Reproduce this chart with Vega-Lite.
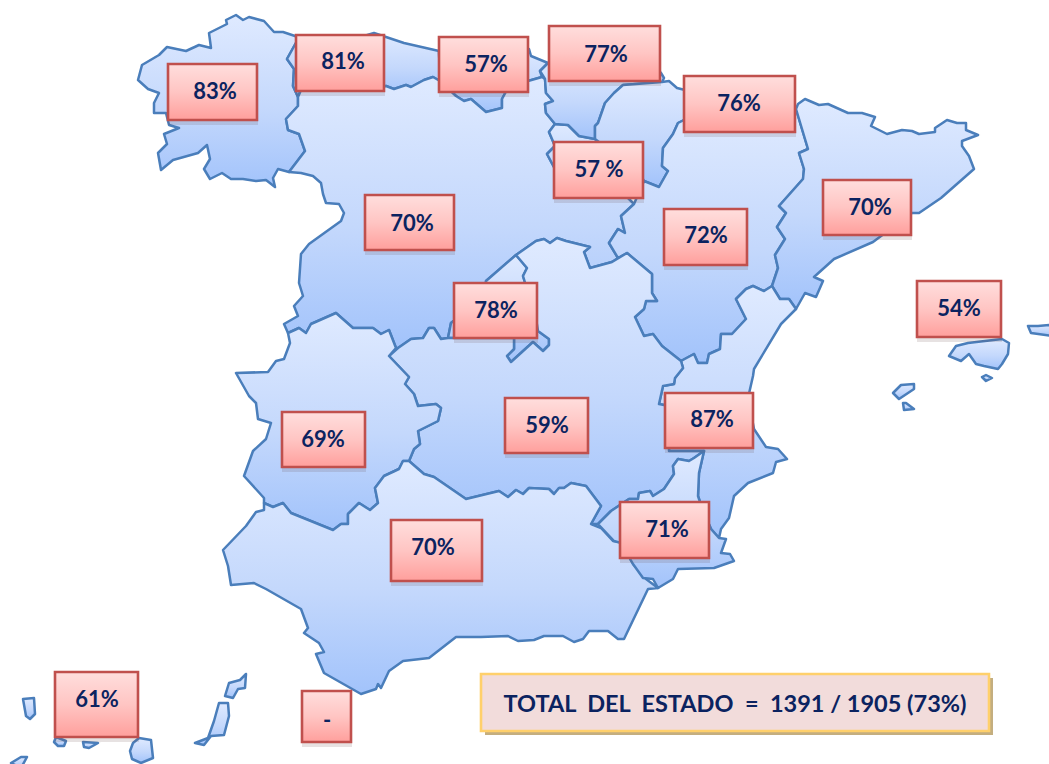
{"$schema":"https://vega.github.io/schema/vega-lite/v6.json","width":1049,"height":764,"padding":0,"autosize":{"type":"none"},"background":"white","config":{"view":{"stroke":null}},
"datasets":{"regions":[
{"type":"Feature","properties":{"name":"Galicia"},"geometry":{"type":"Polygon","coordinates":[[[137,74],[141,59],[158,49],[166,41],[185,45],[198,39],[210,42],[208,27],[226,18],[225,14],[235,9],[242,14],[248,11],[263,15],[273,26],[282,26],[297,31],[296,35],[286,53],[293,63],[292,80],[297,91],[297,100],[285,113],[287,124],[298,128],[304,145],[288,166],[277,163],[272,172],[274,181],[265,174],[255,175],[242,173],[230,173],[221,167],[209,173],[203,163],[209,153],[206,139],[197,147],[172,154],[160,164],[157,147],[166,138],[163,128],[178,122],[168,119],[165,107],[153,107],[153,97],[158,87],[147,83],[137,74]]]}},
{"type":"Feature","properties":{"name":"Asturias"},"geometry":{"type":"Polygon","coordinates":[[[297,31],[312,30],[318,33],[328,33],[330,31],[332,33],[353,33],[373,27],[403,37],[438,45],[439,75],[432,71],[423,74],[410,81],[405,79],[393,83],[385,80],[372,84],[300,84],[297,91],[292,80],[293,63],[286,53],[296,35],[297,31]]]}},
{"type":"Feature","properties":{"name":"Cantabria"},"geometry":{"type":"Polygon","coordinates":[[[438,45],[528,43],[530,50],[547,57],[539,65],[541,71],[527,75],[508,80],[501,93],[501,102],[485,106],[470,93],[463,95],[455,90],[439,75],[438,45]]]}},
{"type":"Feature","properties":{"name":"Castilla y León"},"geometry":{"type":"Polygon","coordinates":[[[297,91],[300,84],[372,84],[385,80],[393,83],[405,79],[410,81],[423,74],[432,71],[439,75],[455,90],[463,95],[470,93],[485,106],[501,102],[501,93],[508,80],[527,75],[541,71],[544,73],[545,87],[552,95],[544,98],[545,107],[554,118],[548,126],[554,140],[546,148],[554,163],[554,175],[560,190],[625,190],[633,198],[620,210],[624,227],[617,223],[608,237],[617,252],[611,256],[589,262],[583,246],[589,241],[565,235],[556,232],[549,237],[543,233],[535,235],[515,249],[485,275],[485,282],[477,282],[455,313],[450,317],[447,332],[440,333],[433,322],[428,322],[422,332],[410,333],[397,342],[395,342],[388,324],[380,328],[372,322],[352,322],[335,307],[310,318],[305,327],[298,322],[287,327],[283,318],[297,310],[293,300],[302,290],[298,277],[300,248],[308,238],[340,215],[343,207],[338,198],[325,197],[322,188],[320,177],[312,170],[300,167],[288,166],[304,145],[298,128],[287,124],[285,113],[297,100],[297,91]]]}},
{"type":"Feature","properties":{"name":"Madrid"},"geometry":{"type":"Polygon","coordinates":[[[515,249],[526,262],[522,270],[526,283],[533,300],[537,325],[548,333],[548,339],[542,345],[532,336],[510,356],[506,350],[513,343],[513,332],[447,332],[450,317],[455,313],[477,282],[485,282],[485,275],[515,249]]]}},
{"type":"Feature","properties":{"name":"La Rioja"},"geometry":{"type":"Polygon","coordinates":[[[554,118],[567,119],[578,130],[594,133],[606,142],[611,138],[622,142],[640,170],[630,190],[560,190],[554,175],[554,163],[546,148],[554,140],[548,126],[554,118]]]}},
{"type":"Feature","properties":{"name":"País Vasco"},"geometry":{"type":"Polygon","coordinates":[[[547,57],[555,52],[655,62],[660,67],[663,72],[661,76],[622,79],[613,87],[604,97],[597,117],[594,120],[594,133],[578,130],[567,119],[554,118],[545,107],[544,98],[552,95],[545,87],[544,73],[539,65],[547,57]]]}},
{"type":"Feature","properties":{"name":"Navarra"},"geometry":{"type":"Polygon","coordinates":[[[661,76],[668,75],[676,82],[684,84],[700,90],[700,110],[683,114],[677,117],[672,128],[662,142],[661,160],[667,165],[658,181],[643,175],[640,170],[622,142],[611,138],[606,142],[594,133],[594,120],[597,117],[604,97],[613,87],[622,79],[661,76]]]}},
{"type":"Feature","properties":{"name":"Aragón"},"geometry":{"type":"Polygon","coordinates":[[[683,114],[700,110],[795,103],[807,143],[798,147],[803,163],[802,173],[778,200],[785,207],[776,221],[784,233],[774,249],[777,262],[771,280],[763,285],[752,280],[745,283],[735,293],[745,313],[731,328],[720,328],[719,343],[708,348],[706,357],[697,357],[693,348],[680,355],[661,340],[652,328],[643,330],[634,311],[643,303],[645,295],[656,295],[651,287],[651,268],[626,247],[617,252],[608,237],[617,223],[624,227],[620,210],[633,198],[643,175],[658,181],[667,165],[661,160],[662,142],[672,128],[677,117],[683,114]]]}},
{"type":"Feature","properties":{"name":"Cataluña"},"geometry":{"type":"Polygon","coordinates":[[[795,103],[797,98],[804,93],[818,99],[827,98],[847,107],[861,107],[874,111],[870,120],[886,128],[901,124],[911,125],[918,128],[934,126],[934,122],[946,114],[956,117],[965,117],[965,124],[977,129],[961,135],[961,140],[968,150],[973,163],[940,192],[918,207],[911,207],[872,236],[833,253],[813,271],[822,275],[815,291],[804,287],[795,303],[788,293],[779,293],[771,280],[777,262],[774,249],[784,233],[776,221],[785,207],[778,200],[802,173],[803,163],[798,147],[807,143],[795,103]]]}},
{"type":"Feature","properties":{"name":"Comunidad Valenciana"},"geometry":{"type":"Polygon","coordinates":[[[735,293],[745,283],[752,280],[763,285],[771,280],[779,293],[788,293],[795,303],[780,318],[753,363],[752,370],[747,392],[753,423],[765,441],[777,443],[786,453],[775,456],[772,467],[747,477],[733,490],[728,512],[720,523],[718,532],[710,523],[701,502],[697,490],[698,467],[703,445],[690,445],[668,445],[668,400],[658,398],[662,380],[673,378],[674,372],[682,362],[680,355],[693,348],[697,357],[706,357],[708,348],[719,343],[720,328],[731,328],[745,313],[735,293]]]}},
{"type":"Feature","properties":{"name":"Castilla-La Mancha"},"geometry":{"type":"Polygon","coordinates":[[[388,350],[397,342],[410,333],[422,332],[428,322],[433,322],[440,333],[447,332],[513,332],[513,343],[506,350],[510,356],[532,336],[542,345],[548,339],[548,333],[537,325],[533,300],[526,283],[522,270],[526,262],[515,249],[535,235],[543,233],[549,237],[556,232],[565,235],[589,241],[583,246],[589,262],[611,256],[626,247],[651,268],[651,287],[656,295],[645,295],[643,303],[634,311],[643,330],[652,328],[661,340],[680,355],[682,362],[674,372],[673,378],[662,380],[658,398],[668,400],[668,445],[703,445],[693,452],[688,455],[677,453],[672,460],[673,468],[663,483],[652,490],[649,485],[638,487],[637,493],[628,493],[610,505],[597,518],[590,518],[600,500],[585,480],[570,477],[563,482],[558,482],[553,488],[548,483],[528,482],[522,488],[515,484],[507,491],[498,485],[465,493],[433,471],[423,468],[408,455],[413,443],[419,438],[417,425],[437,415],[440,402],[435,398],[417,400],[413,388],[404,378],[408,371],[388,350]]]}},
{"type":"Feature","properties":{"name":"Extremadura"},"geometry":{"type":"Polygon","coordinates":[[[287,327],[298,322],[305,327],[310,318],[335,307],[352,322],[372,322],[380,328],[388,324],[395,342],[388,350],[408,371],[404,378],[413,388],[417,400],[435,398],[440,402],[437,415],[417,425],[419,438],[413,443],[408,455],[402,455],[398,463],[383,470],[374,482],[377,497],[369,504],[358,497],[347,508],[347,518],[340,518],[332,524],[290,507],[282,497],[272,501],[263,497],[263,492],[243,470],[252,445],[265,433],[270,417],[257,413],[255,397],[248,390],[235,367],[267,366],[275,355],[283,353],[289,337],[287,327]]]}},
{"type":"Feature","properties":{"name":"Andalucía"},"geometry":{"type":"Polygon","coordinates":[[[222,544],[245,520],[255,506],[263,504],[263,497],[272,501],[282,497],[290,507],[332,524],[340,518],[347,518],[347,508],[358,497],[369,504],[377,497],[374,482],[383,470],[398,463],[402,455],[408,455],[423,468],[433,471],[465,493],[498,485],[507,491],[515,484],[522,488],[528,482],[548,483],[553,488],[558,482],[563,482],[570,477],[585,480],[600,500],[590,518],[600,522],[612,535],[620,536],[632,558],[645,573],[657,582],[647,583],[623,633],[617,633],[607,625],[588,625],[582,633],[573,636],[562,630],[543,630],[533,634],[517,635],[507,630],[480,631],[455,631],[428,652],[402,655],[388,665],[380,682],[377,678],[375,683],[360,688],[323,667],[315,648],[323,646],[318,637],[303,627],[307,622],[300,603],[265,583],[253,577],[230,579],[227,560],[222,544]]]}},
{"type":"Feature","properties":{"name":"Murcia"},"geometry":{"type":"Polygon","coordinates":[[[597,518],[610,505],[628,493],[637,493],[638,487],[649,485],[652,490],[663,483],[673,468],[672,460],[677,453],[688,455],[693,452],[703,445],[698,467],[697,490],[701,502],[710,523],[718,532],[725,533],[720,547],[729,548],[733,555],[713,562],[677,563],[672,573],[657,582],[652,573],[642,572],[632,558],[620,537],[613,535],[597,518]]]}},
{"type":"Feature","properties":{"name":"Mallorca"},"geometry":{"type":"Polygon","coordinates":[[[948,350],[955,340],[967,337],[1001,333],[1008,337],[1007,348],[1001,358],[997,363],[983,360],[975,358],[968,348],[960,355],[948,350]]]}},
{"type":"Feature","properties":{"name":"Cabrera"},"geometry":{"type":"Polygon","coordinates":[[[981,371],[985,369],[991,372],[985,375],[981,371]]]}},
{"type":"Feature","properties":{"name":"Ibiza"},"geometry":{"type":"Polygon","coordinates":[[[892,387],[900,379],[913,378],[913,383],[898,393],[892,387]]]}},
{"type":"Feature","properties":{"name":"Formentera"},"geometry":{"type":"Polygon","coordinates":[[[902,397],[905,397],[913,403],[903,404],[902,397]]]}},
{"type":"Feature","properties":{"name":"Menorca"},"geometry":{"type":"Polygon","coordinates":[[[1027,320],[1037,320],[1049,319],[1052,330],[1030,327],[1027,320]]]}},
{"type":"Feature","properties":{"name":"La Palma"},"geometry":{"type":"Polygon","coordinates":[[[22,693],[33,692],[34,708],[29,713],[25,710],[22,693]]]}},
{"type":"Feature","properties":{"name":"El Hierro"},"geometry":{"type":"Polygon","coordinates":[[[10,757],[20,751],[26,751],[20,762],[10,757]]]}},
{"type":"Feature","properties":{"name":"La Gomera"},"geometry":{"type":"Polygon","coordinates":[[[53,736],[55,731],[65,735],[63,740],[57,740],[53,736]]]}},
{"type":"Feature","properties":{"name":"Tenerife"},"geometry":{"type":"Polygon","coordinates":[[[82,736],[97,737],[88,742],[83,741],[82,736]]]}},
{"type":"Feature","properties":{"name":"Gran Canaria"},"geometry":{"type":"Polygon","coordinates":[[[129,745],[132,737],[138,732],[150,734],[152,752],[140,757],[131,753],[129,745]]]}},
{"type":"Feature","properties":{"name":"Fuerteventura"},"geometry":{"type":"Polygon","coordinates":[[[194,737],[207,732],[213,715],[218,697],[227,697],[228,710],[223,729],[210,730],[203,739],[194,737]]]}},
{"type":"Feature","properties":{"name":"Lanzarote"},"geometry":{"type":"Polygon","coordinates":[[[224,690],[228,677],[239,674],[245,668],[244,682],[237,683],[232,692],[224,690]]]}}
],
"boxes":[
{"label":"83%","x0":168,"x1":257,"y0":64,"y1":120,"cx":215,"cy":90},
{"label":"81%","x0":296,"x1":384,"y0":35,"y1":91,"cx":343,"cy":60},
{"label":"57%","x0":439,"x1":528,"y0":37,"y1":92,"cx":486,"cy":63},
{"label":"77%","x0":549,"x1":660,"y0":26,"y1":81,"cx":606,"cy":53},
{"label":"76%","x0":684,"x1":795,"y0":76,"y1":132,"cx":739,"cy":102},
{"label":"57 %","x0":554,"x1":643,"y0":142,"y1":198,"cx":599,"cy":168},
{"label":"70%","x0":365,"x1":454,"y0":195,"y1":250,"cx":412,"cy":222},
{"label":"72%","x0":664,"x1":747,"y0":209,"y1":265,"cx":706,"cy":234},
{"label":"70%","x0":823,"x1":911,"y0":180,"y1":235,"cx":870,"cy":206},
{"label":"78%","x0":454,"x1":537,"y0":283,"y1":338,"cx":496,"cy":309},
{"label":"54%","x0":917,"x1":1001,"y0":281,"y1":337,"cx":959,"cy":307},
{"label":"69%","x0":282,"x1":365,"y0":412,"y1":467,"cx":323,"cy":438},
{"label":"59%","x0":505,"x1":588,"y0":398,"y1":453,"cx":547,"cy":424},
{"label":"87%","x0":665,"x1":753,"y0":393,"y1":448,"cx":712,"cy":418},
{"label":"70%","x0":391,"x1":482,"y0":520,"y1":581,"cx":433,"cy":546},
{"label":"71%","x0":620,"x1":709,"y0":502,"y1":558,"cx":667,"cy":528},
{"label":"61%","x0":55,"x1":138,"y0":672,"y1":737,"cx":97,"cy":698},
{"label":"-","x0":302,"x1":351,"y0":691,"y1":742,"cx":327,"cy":719}
],
"total":[{"label":"TOTAL\u00a0\u00a0DEL\u00a0\u00a0ESTADO\u00a0\u00a0=\u00a0\u00a01391 / 1905 (73%)","x0":481,"x1":989,"y0":674,"y1":731,"cx":735,"cy":703}]},
"layer":[
{"data":{"name":"regions"},"mark":{"type":"geoshape","fill":"#5a5a5a","fillOpacity":0.08,"stroke":"#5a5a5a","strokeOpacity":0.06,"strokeWidth":2},"projection":{"type":"identity","scale":1,"translate":[1,6]}},
{"data":{"name":"regions"},"mark":{"type":"geoshape","fill":"#5a5a5a","fillOpacity":0.1,"stroke":null},"projection":{"type":"identity","scale":1,"translate":[1,4]}},
{"data":{"name":"regions"},"mark":{"type":"geoshape","filled":true,"fill":{"gradient":"linear","x1":0,"y1":0,"x2":0,"y2":1,"stops":[{"offset":0,"color":"#dfeaff"},{"offset":0.55,"color":"#c4d8fc"},{"offset":1,"color":"#a2c3fb"}]},"stroke":"#4a7ebb","strokeWidth":2.5,"strokeJoin":"round"},"projection":{"type":"identity","scale":1,"translate":[0,0]}},
{"data":{"name":"boxes"},"mark":{"type":"rect","fill":"#6a4a4a","opacity":0.16,"yOffset":3,"y2Offset":5,"xOffset":0,"x2Offset":1},"encoding":{"x":{"field":"x0","type":"quantitative","scale":{"domain":[0,1049],"nice":false,"zero":false},"axis":null},"x2":{"field":"x1"},"y":{"field":"y0","type":"quantitative","scale":{"domain":[764,0],"nice":false,"zero":false},"axis":null},"y2":{"field":"y1"}}},
{"data":{"name":"boxes"},"mark":{"type":"rect","fill":{"gradient":"linear","x1":0,"y1":0,"x2":0,"y2":1,"stops":[{"offset":0,"color":"#ffdedd"},{"offset":0.5,"color":"#ffc5c3"},{"offset":1,"color":"#ff9f9c"}]},"stroke":"#c0504d","strokeWidth":2.6},"encoding":{"x":{"field":"x0","type":"quantitative"},"x2":{"field":"x1"},"y":{"field":"y0","type":"quantitative"},"y2":{"field":"y1"}}},
{"data":{"name":"boxes"},"mark":{"type":"text","font":"Lato","fontWeight":"bold","fontSize":22,"color":"#0b2360","align":"center","baseline":"middle","dy":2},"encoding":{"x":{"field":"cx","type":"quantitative"},"y":{"field":"cy","type":"quantitative"},"text":{"field":"label","type":"nominal"}}},
{"data":{"name":"total"},"mark":{"type":"rect","fill":"#c4ae7f","xOffset":4,"x2Offset":4,"yOffset":4,"y2Offset":4},"encoding":{"x":{"field":"x0","type":"quantitative"},"x2":{"field":"x1"},"y":{"field":"y0","type":"quantitative"},"y2":{"field":"y1"}}},
{"data":{"name":"total"},"mark":{"type":"rect","fill":"#f2dcdb","stroke":"#ffd06b","strokeWidth":2.6},"encoding":{"x":{"field":"x0","type":"quantitative"},"x2":{"field":"x1"},"y":{"field":"y0","type":"quantitative"},"y2":{"field":"y1"}}},
{"data":{"name":"total"},"mark":{"type":"text","font":"Lato","fontWeight":"bold","fontSize":23.5,"color":"#0b2360","align":"center","baseline":"middle","dy":2},"encoding":{"x":{"field":"cx","type":"quantitative"},"y":{"field":"cy","type":"quantitative"},"text":{"field":"label","type":"nominal"}}}
]}
